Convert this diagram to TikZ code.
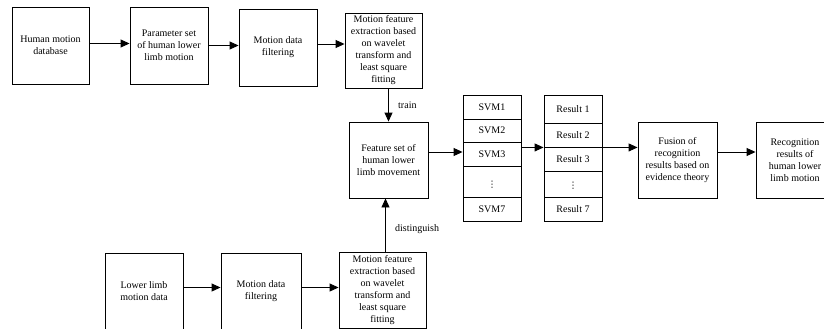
\documentclass[tikz,border=0pt]{standalone}
\usepackage{fontspec}
\setmainfont{Liberation Serif}
\newfontfamily\symfont{DejaVu Sans}
\usetikzlibrary{arrows.meta}
\begin{document}
\begin{tikzpicture}[x=1pt,y=-1pt,
  txt/.style={font=\fontsize{10}{12}\selectfont},
  box/.style={txt, draw, line width=0.9pt, align=center, inner sep=0pt},
  cell/.style={txt, draw, line width=0.9pt, minimum width=58pt, inner sep=0pt},
  vd/.style={font=\symfont\fontsize{9}{10}\selectfont, inner sep=0pt},
  arr/.style={line width=0.9pt, -{Triangle[length=9pt,width=8pt]}},
  lbl/.style={txt, anchor=west, inner sep=0pt}]
\clip (0,0) rectangle (824,329);
\fill[white] (0,0) rectangle (824,329);

% training chain
\node[box, minimum width=77pt, minimum height=77pt] (b1) at (50.5,45.5) {Human motion\\database};
\node[box, minimum width=78pt, minimum height=77pt] (b2) at (169,45.5) {Parameter set\\of human lower\\limb motion};
\node[box, minimum width=78pt, minimum height=77pt] (b3) at (278,47.5) {Motion data\\filtering};
\node[box, minimum width=77pt, minimum height=75pt] (b4) at (383.5,50.5) {Motion feature\\extraction based\\on wavelet\\transform and\\least square\\fitting};

% feature set
\node[box, minimum width=79pt, minimum height=76pt] (feat) at (388.5,160) {Feature set of\\human lower\\limb movement};

% classifier column
\node[cell, minimum height=24pt] (s1) at (492,107) {SVM1};
\node[cell, minimum height=23pt] (s2) at (492,130.5) {SVM2};
\node[cell, minimum height=24pt] (s3) at (492,154) {SVM3};
\node[cell, minimum height=31pt] (sd) at (492,181.5) {};
\node[vd] (sdd) at (492,185) {⋮};
\node[cell, minimum height=24pt] (s7) at (492,209) {SVM7};

% result column
\node[cell, minimum height=28pt] (r1) at (573,109) {Result 1};
\node[cell, minimum height=24pt] (r2) at (573,135) {Result 2};
\node[cell, minimum height=24pt] (r3) at (573,159) {Result 3};
\node[cell, minimum height=26pt] (rd) at (573,184) {};
\node[vd] (rdd) at (573,186) {⋮};
\node[cell, minimum height=24pt] (r7) at (573,209) {Result 7};

% fusion and output
\node[box, minimum width=79pt, minimum height=76pt] (fus) at (677.5,160) {Fusion of\\recognition\\results based on\\evidence theory};
\node[box, minimum width=78pt, minimum height=76pt] (rec) at (795,160) {Recognition\\results of\\human lower\\limb motion};

% recognition chain
\node[box, minimum width=78pt, minimum height=77pt] (lb) at (144,291.5) {Lower limb\\motion data};
\node[box, minimum width=80pt, minimum height=77pt] (lf) at (261,291.5) {Motion data\\filtering};
\node[box, minimum width=87pt, minimum height=76pt] (ext) at (382.5,290) {Motion feature\\extraction based\\on wavelet\\transform and\\least square\\fitting};

% connectors
\draw[arr] ([yshift=2pt]b1.east) -- ([yshift=2pt]b1.east -| b2.west);
\draw[arr] (b2.east) -- (b2.east -| b3.west);
\draw[arr] ([yshift=3.5pt]b3.east) -- ([yshift=3.5pt]b3.east -| b4.west);
\draw[arr] (feat.north |- b4.south) -- (feat.north);
\node[lbl] (ltrain) at (398,105) {train};
\draw[arr] ([yshift=8pt]feat.east) -- ([yshift=8pt]feat.east -| s3.west);
\draw[arr] (r2.south west -| s3.east) -- (r2.south west);
\draw[arr] (r2.south east) -- (r2.south east -| fus.west);
\draw[arr] ([yshift=8pt]fus.east) -- ([yshift=8pt]fus.east -| rec.west);
\draw[arr] ([yshift=4pt]lb.east) -- ([yshift=4pt]lb.east -| lf.west);
\draw[arr] ([yshift=4pt]lf.east) -- ([yshift=4pt]lf.east -| ext.west);
\draw[arr] ([xshift=-3pt]feat.south |- ext.north) -- ([xshift=-3pt]feat.south);
\node[lbl] (ldist) at (395,229) {distinguish};
\end{tikzpicture}
\end{document}
